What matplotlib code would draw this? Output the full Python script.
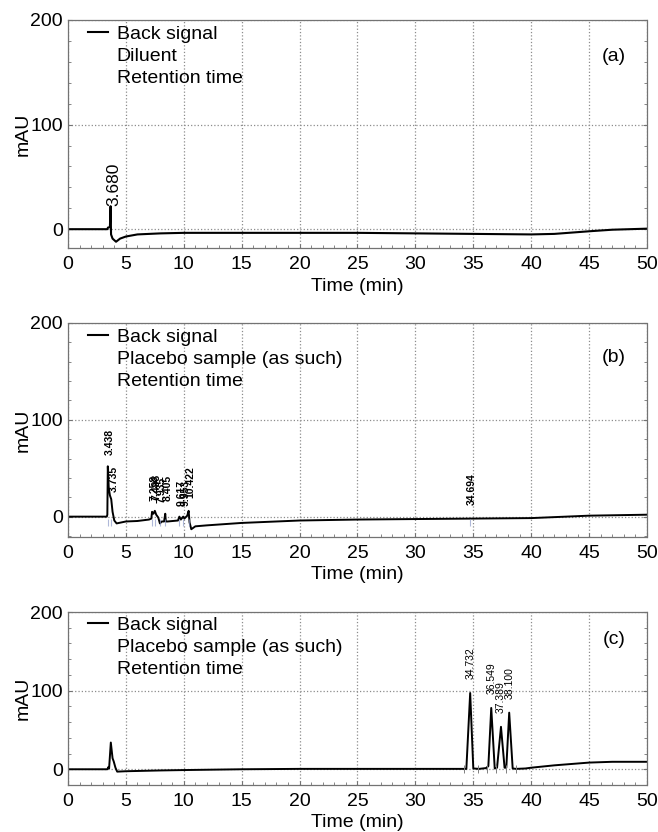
import numpy as np
import matplotlib.pyplot as plt
from matplotlib.lines import Line2D
from matplotlib.ticker import MultipleLocator

plt.rcParams['font.family'] = ['Liberation Sans', 'DejaVu Sans']

# (a) diluent trace, time (min) / mAU
t_a = [0, 3.4, 3.45, 3.62, 3.68, 3.72, 3.85, 4.15, 4.5, 5.0, 6.0, 8.0, 10, 15, 20, 25, 30, 35, 40, 42, 45, 47, 50]
y_a = [0, 0, 1.5, 2, 22, -5, -9, -12, -9, -7, -5, -4, -3.5, -3.5, -3.5, -3.5, -4, -4.5, -5, -4.5, -2, -0.5, 0.5]
rt_a = [3.680]
h_a = [22]

# (b) placebo sample
t_b = [0, 3.35, 3.40, 3.44, 3.52, 3.62, 3.735, 3.85, 4.0, 4.2, 5, 6, 7.0, 7.2, 7.26, 7.38, 7.5, 7.62,
       7.8, 7.94, 8.1, 8.3, 8.4, 8.45, 8.6, 9.5, 9.62, 9.75, 9.95, 10.05, 10.3, 10.42, 10.5, 10.65,
       11, 12, 15, 20, 25, 30, 35, 40, 45, 50]
y_b = [0, 0, 2, 52, 30, 22, 18, 5, -4, -7, -5, -4.5, -3, -2, 5, 3, 6, 2,
       -1, -7, -5, -5, 3, -5, -5, -4, 0, -3, 0, -2, 1, 6, -6, -13,
       -10, -9, -6.5, -4, -3, -2.5, -2, -1.5, 1, 2]
rt_b = [3.438, 3.735, 7.258, 7.498, 7.935, 8.405, 9.617, 9.953, 10.422, 34.694]
h_b = [52, 14, 5, 6, 3, 5, 0, 0, 8, 1]
lab_b = ["3.438", "3.735", "7.258", "7.498", "7.935", "8.405", "9.617", "9.953", "10.422", "34.694"]

# (c) placebo sample (spiked)
t_c = [0, 3.4, 3.5, 3.55, 3.7, 3.85, 3.95, 4.1, 4.25, 5, 8, 10, 15, 20, 30, 34.4,
       34.73, 35.0, 35.5, 36.1, 36.3, 36.55, 36.85, 37.05, 37.39, 37.7, 37.85, 38.10, 38.4,
       38.7, 39.5, 40, 42, 45, 47, 50]
y_c = [0, 0, 3, 1, 34, 14, 10, 2, -3, -2.5, -1.5, -1, 0, 0.5, 0.5, 0.5,
       97, 1, 0.5, 1.5, 4, 78, 1, 2, 54, 2, 2, 72, 1,
       0.5, 1, 2, 5, 8.5, 9.5, 9.5]
rt_c = [34.732, 36.549, 37.389, 38.100]
h_c = [97, 78, 54, 72]
marks_c = [34.2, 35.4, 36.2, 37.0, 37.8, 38.7]

legend_a = ["Back signal", "Diluent", "Retention time"]
legend_bc = ["Back signal", "Placebo sample (as such)", "Retention time"]

fig = plt.figure(figsize=(6.58, 8.32), dpi=100)
L, W = 0.1033, 0.88
ax_a = fig.add_axes([L, 0.7019, W, 0.2741])
ax_b = fig.add_axes([L, 0.3546, W, 0.2572])
ax_c = fig.add_axes([L, 0.0565, W, 0.2079])

FS = 14
grid_col = '0.55'


def style_axes(ax, ymin, tag, legend_txt):
    ax.set_xlim(0, 50)
    ax.set_ylim(ymin, 200)
    ax.set_xticks(range(0, 51, 5))
    ax.set_yticks([0, 100, 200])
    ax.xaxis.set_minor_locator(MultipleLocator(1))
    ax.yaxis.set_minor_locator(MultipleLocator(20))
    ax.tick_params(which='both', direction='in', right=True, labelsize=FS, color='0.45')
    ax.tick_params(which='major', length=3)
    ax.tick_params(axis='x', which='major', pad=6)
    ax.tick_params(which='minor', length=2)
    ax.grid(True, which='major', linestyle=':', color=grid_col, linewidth=0.9)
    for sp in ax.spines.values():
        sp.set_color('0.45')
        sp.set_linestyle((0, (3, 1)))
        sp.set_linewidth(0.9)
    ax.set_xlabel("Time (min)", fontsize=FS, labelpad=3)
    ax.set_ylabel("mAU", fontsize=FS, labelpad=-1)
    handles = [Line2D([], [], color='k', lw=1.5),
               Line2D([], [], color='none'),
               Line2D([], [], color='none')]
    ax.legend(handles, legend_txt, loc='upper left', bbox_to_anchor=(0.034, 0.975),
              frameon=False, fontsize=FS, handlelength=1.05, handletextpad=0.45,
              labelspacing=0.22, borderpad=0, borderaxespad=0)
    ax.text(0.943, 0.84, tag, transform=ax.transAxes, fontsize=FS, ha='center', va='center')


style_axes(ax_a, -18, "(a)", legend_a)
style_axes(ax_b, -21, "(b)", legend_bc)
style_axes(ax_c, -20, "(c)", legend_bc)

ax_a.plot(t_a, y_a, color='k', lw=1.5)
for rt, h in zip(rt_a, h_a):
    ax_a.annotate(f"{rt:.3f}", (rt, h), xytext=(2, 0), textcoords='offset points',
                  rotation=90, ha='center', va='bottom', fontsize=12.5)

ax_b.plot(t_b, y_b, color='k', lw=1.4)
ax_b.vlines(rt_b, -10, -2, color='#8d9bc9', lw=0.8, alpha=0.7)
for rt, h, s in zip(rt_b, h_b, lab_b):
    ax_b.annotate(s, (rt, h), xytext=(1.5, 8), textcoords='offset points',
                  rotation=90, ha='center', va='bottom', fontsize=7.5, fontweight='bold')

ax_c.plot(t_c, y_c, color='k', lw=1.4)
ax_c.vlines(marks_c, -5, 6, color='0.5', lw=0.7)
for rt, h in zip(rt_c, h_c):
    ax_c.annotate(f"{rt:.3f}", (rt, h), xytext=(0, 10), textcoords='offset points',
                  rotation=90, ha='center', va='bottom', fontsize=7.5)

fig.savefig("out.png", dpi=100)
